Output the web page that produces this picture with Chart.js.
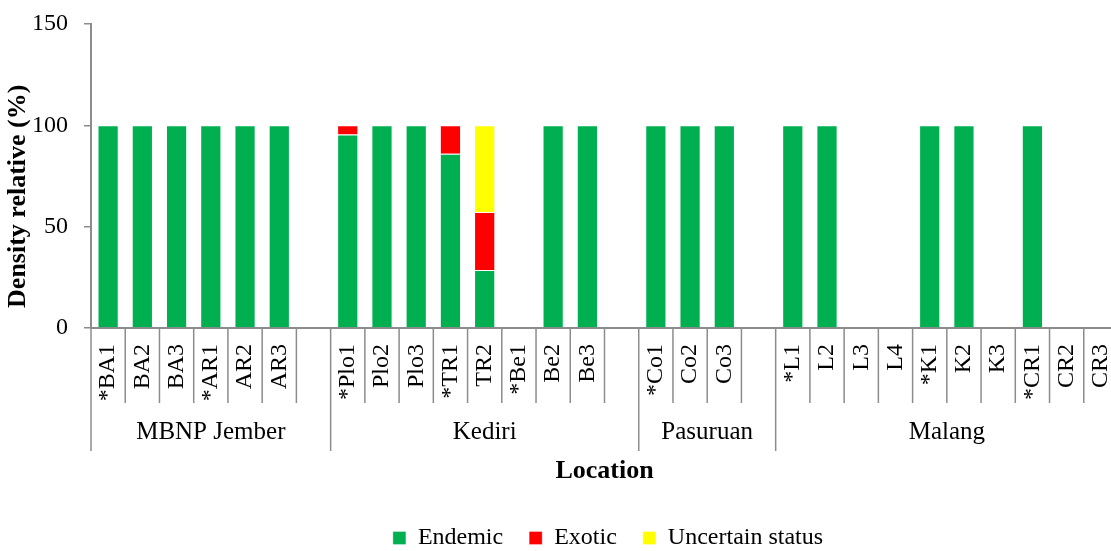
<!DOCTYPE html>
<html>
<head>
<meta charset="utf-8">
<script src="https://cdn.jsdelivr.net/npm/chart.js@4.4.1/dist/chart.umd.min.js"></script>
<style>
  html, body { margin: 0; padding: 0; background: #fff; overflow: hidden; }
  #wrap { width: 1120px; height: 551px; }
</style>
</head>
<body>
<div id="wrap"><canvas id="chart"></canvas></div>
<script>
// Sites (blank slots separate the regions)
const sites = ['*BA1', 'BA2', 'BA3', '*AR1', 'AR2', 'AR3', '',
    '*Plo1', 'Plo2', 'Plo3', '*TR1', 'TR2', '*Be1', 'Be2', 'Be3', '',
    '*Co1', 'Co2', 'Co3', '',
    '*L1', 'L2', 'L3', 'L4', '*K1', 'K2', 'K3', '*CR1', 'CR2', 'CR3'];

const endemic = [100, 100, 100, 100, 100, 100, null,
    95.5, 100, 100, 86, 28.6, 0, 100, 100, null,
    100, 100, 100, null,
    100, 100, 0, 0, 100, 100, 0, 100, 0, 0];
const exotic = [0, 0, 0, 0, 0, 0, null,
    4.5, 0, 0, 14, 28.6, 0, 0, 0, null,
    0, 0, 0, null,
    0, 0, 0, 0, 0, 0, 0, 0, 0, 0];
const uncertain = [0, 0, 0, 0, 0, 0, null,
    0, 0, 0, 0, 42.8, 0, 0, 0, null,
    0, 0, 0, null,
    0, 0, 0, 0, 0, 0, 0, 0, 0, 0];

// Regions: name, first slot, slot after the last
const regionNames = ['MBNP Jember', 'Kediri', 'Pasuruan', 'Malang'];
const regionStart = [0, 7, 16, 20];
const regionEnd = [7, 16, 20, 30];

const yTicks = [0, 50, 100, 150];
const yTitle = 'Density relative (%)';

const SERIF = '"Liberation Serif", "DejaVu Serif", serif';
const AXIS_GREY = '#8c8c8c';

// Draws the slot separators under the axis, the region names and the y title
const regionAxis = {
    id: 'regionAxis',
    afterLayout(chart) {
        // legend sits a little right of centre in the original
        chart.legend.left += 49;
        chart.legend.right += 49;
    },
    afterDraw(chart) {
        const ctx = chart.ctx;
        const x = chart.scales.x;
        const half = (x.getPixelForValue(1) - x.getPixelForValue(0)) / 2;
        const edge = i => x.getPixelForValue(i) - half;
        const top = x.top;
        ctx.save();
        ctx.strokeStyle = AXIS_GREY;
        ctx.lineWidth = 1.5;
        for (let i = 0; i <= sites.length; i++) {
            const isRegion = regionStart.includes(i) || i === sites.length;
            ctx.beginPath();
            ctx.moveTo(edge(i), top);
            ctx.lineTo(edge(i), isRegion ? top + 123 : top + 75);
            ctx.stroke();
        }
        ctx.fillStyle = '#000';
        ctx.font = '25px ' + SERIF;
        ctx.textAlign = 'center';
        ctx.textBaseline = 'middle';
        regionNames.forEach((name, k) => {
            const cx = (edge(regionStart[k]) + edge(regionEnd[k])) / 2;
            ctx.fillText(name, cx, top + 104);
        });

        // y title, a bit below the middle of the axis as in the original
        const y = chart.scales.y;
        ctx.translate(18, y.getPixelForValue(65));
        ctx.rotate(-Math.PI / 2);
        ctx.font = 'bold 26px ' + SERIF;
        ctx.fillText(yTitle, 0, 0);
        ctx.restore();
    }
};

const ctx = document.getElementById('chart').getContext('2d');
new Chart(ctx, {
    type: 'bar',
    data: {
        labels: sites,
        datasets: [{
            label: 'Endemic',
            data: endemic,
            backgroundColor: '#00B050',
            borderColor: 'rgba(255,255,255,0.3)',
            borderWidth: 1
        },
        {
            label: 'Exotic',
            data: exotic,
            backgroundColor: '#FF0000',
            borderColor: 'rgba(255,255,255,0.3)',
            borderWidth: 1
        },
        {
            label: 'Uncertain status',
            data: uncertain,
            backgroundColor: '#FFFF00',
            borderColor: 'rgba(255,255,255,0.3)',
            borderWidth: 1
        }]
    },
    options: {
        responsive: true,
        maintainAspectRatio: false,
        animation: false,
        layout: { padding: { top: 24, right: 2, left: 0, bottom: -9 } },
        datasets: {
            bar: { barPercentage: 0.62, categoryPercentage: 1 }
        },
        plugins: {
            tooltip: { enabled: false },
            legend: {
                position: 'bottom',
                labels: {
                    color: '#000',
                    font: { family: SERIF, size: 24 },
                    boxWidth: 13,
                    boxHeight: 13,
                    padding: 26
                }
            }
        },
        scales: {
            x: {
                stacked: true,
                grid: { display: false, drawTicks: false },
                border: { display: true, color: AXIS_GREY, width: 2 },
                ticks: {
                    autoSkip: false,
                    minRotation: 90,
                    maxRotation: 90,
                    padding: 16,
                    color: '#000',
                    font: { family: SERIF, size: 24 }
                },
                title: {
                    display: true,
                    text: 'Location',
                    color: '#000',
                    font: { family: SERIF, size: 26, weight: 'bold' },
                    padding: { top: 0, bottom: 13 }
                },
                afterFit(scale) {
                    scale.height = 172;
                    scale.paddingLeft = 0;
                    scale.paddingRight = 0;
                }
            },
            y: {
                stacked: true,
                min: 0,
                max: 150,
                afterBuildTicks(scale) { scale.ticks = yTicks.map(v => ({ value: v })); },
                grid: { drawOnChartArea: false, drawTicks: true, tickLength: 7, color: AXIS_GREY, lineWidth: 1.5 },
                border: { display: true, color: AXIS_GREY, width: 2 },
                ticks: {
                    padding: 16,
                    color: '#000',
                    font: { family: SERIF, size: 24 }
                },
                afterFit(scale) {
                    scale.width = 91;
                    scale.paddingTop = 0;
                    scale.paddingBottom = 0;
                }
            }
        }
    },
    plugins: [regionAxis]
});
</script>
</body>
</html>
